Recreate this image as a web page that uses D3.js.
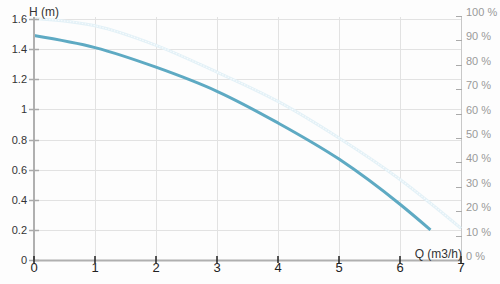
<!DOCTYPE html>
<html>
<head>
<meta charset="utf-8">
<script src="https://cdn.jsdelivr.net/npm/d3@7"></script>
<style>
	html, body { margin: 0; padding: 0; background: #fdfdfd; }
	svg { display: block; font-family: Arial, "Liberation Sans", sans-serif; }
</style>
</head>
<body>
<svg width="500" height="284"></svg>
<script>
// pump curve: head H (m) over flow Q (m3/h)
var q_head = [0, 1, 2, 3, 4, 5, 6, 6.5];
var head = [1.49, 1.41, 1.28, 1.12, 0.91, 0.67, 0.37, 0.2];
// efficiency curve (%), right axis
var q_eff = [0, 1, 2, 3, 4, 5, 6, 7];
var eff = [99, 96, 88, 77, 65, 50, 33, 13];
// tick labels
var x_ticks = [0, 1, 2, 3, 4, 5, 6, 7];
var h_ticks = [0, 0.2, 0.4, 0.6, 0.8, 1, 1.2, 1.4, 1.6];
var pct_ticks = [0, 10, 20, 30, 40, 50, 60, 70, 80, 90, 100];

var svg = d3.select('svg');
var scale_x = d3.scaleLinear().domain([0, 7]).range([34, 461]);
var scale_y = d3.scaleLinear().domain([0, 1.6]).range([260, 19]);
var scale_p = d3.scaleLinear().domain([0, 100]).range([260, 16]);

// grid
var grid = svg.append('g').attr('stroke', '#e2e2e2').attr('stroke-width', 1);
grid.selectAll('.gx').data(x_ticks.slice(1, -1)).enter().append('line')
	.attr('x1', d => scale_x(d) + 0.5).attr('x2', d => scale_x(d) + 0.5)
	.attr('y1', 17).attr('y2', 260);
grid.selectAll('.gy').data(h_ticks.slice(1)).enter().append('line')
	.attr('x1', 34).attr('x2', 461)
	.attr('y1', d => Math.round(scale_y(d)) + 0.5).attr('y2', d => Math.round(scale_y(d)) + 0.5);

// right axis (efficiency)
var right = svg.append('g');
right.append('line').attr('x1', 461.5).attr('x2', 461.5).attr('y1', 16).attr('y2', 260)
	.attr('stroke', '#c8c8c8').attr('stroke-width', 1);
var rt = right.selectAll('.rt').data(pct_ticks).enter().append('g')
	.attr('transform', d => 'translate(0,' + Math.round(scale_p(d)) + ')');
rt.append('line').attr('x1', 456).attr('x2', 462).attr('y1', 0.5).attr('y2', 0.5)
	.attr('stroke', '#aaa');
rt.append('text').attr('x', 466).attr('y', 0).text(d => d + ' %')
	.attr('fill', '#9a9a9a').attr('font-size', '11px');

// curves
var line_eff = d3.line().x((d, i) => scale_x(q_eff[i])).y(d => scale_p(d)).curve(d3.curveMonotoneX);
svg.append('path').attr('d', line_eff(eff)).attr('fill', 'none')
	.attr('stroke', '#e3f1f7').attr('stroke-width', 3);
svg.append('path').attr('d', line_eff(eff)).attr('fill', 'none')
	.attr('stroke', '#f7fbfd').attr('stroke-width', 1.2).attr('stroke-dasharray', '1.5,1.5');

var line_head = d3.line().x((d, i) => scale_x(q_head[i])).y(d => scale_y(d)).curve(d3.curveMonotoneX);
svg.append('path').attr('d', line_head(head)).attr('fill', 'none')
	.attr('stroke', '#5eaac3').attr('stroke-width', 3);

// left axis
var left = svg.append('g');
left.append('line').attr('x1', 34).attr('x2', 34).attr('y1', 17).attr('y2', 261)
	.attr('stroke', '#b0b0b0').attr('stroke-width', 2);
var lt = left.selectAll('.lt').data(h_ticks).enter().append('g')
	.attr('transform', d => 'translate(0,' + Math.round(scale_y(d)) + ')');
lt.append('line').attr('x1', 29).attr('x2', 39).attr('y1', 0.5).attr('y2', 0.5)
	.attr('stroke', '#aaa').attr('stroke-width', 1.5);
lt.append('text').attr('x', 27).attr('y', 0).attr('dy', '0.35em').attr('text-anchor', 'end')
	.text(d => d).attr('fill', '#333').attr('font-size', '11px');

// x axis
var bottom = svg.append('g');
bottom.append('line').attr('x1', 33).attr('x2', 462).attr('y1', 260.5).attr('y2', 260.5)
	.attr('stroke', '#b0b0b0').attr('stroke-width', 2);
var bt = bottom.selectAll('.bt').data(x_ticks).enter().append('g')
	.attr('transform', d => 'translate(' + scale_x(d) + ',0)');
bt.append('line').attr('x1', 0).attr('x2', 0).attr('y1', 256).attr('y2', 263)
	.attr('stroke', '#222').attr('stroke-width', 1.5);
bt.append('text').attr('x', 0).attr('y', 272).attr('text-anchor', 'middle')
	.text(d => d).attr('fill', '#222').attr('font-size', '13px');

// axis titles
svg.append('text').attr('x', 29).attr('y', 16).text('H (m)')
	.attr('fill', '#333').attr('font-size', '12px');
svg.append('text').attr('x', 462).attr('y', 258).attr('text-anchor', 'end').text('Q (m3/h)')
	.attr('fill', '#333').attr('font-size', '12px');
</script>
</body>
</html>
